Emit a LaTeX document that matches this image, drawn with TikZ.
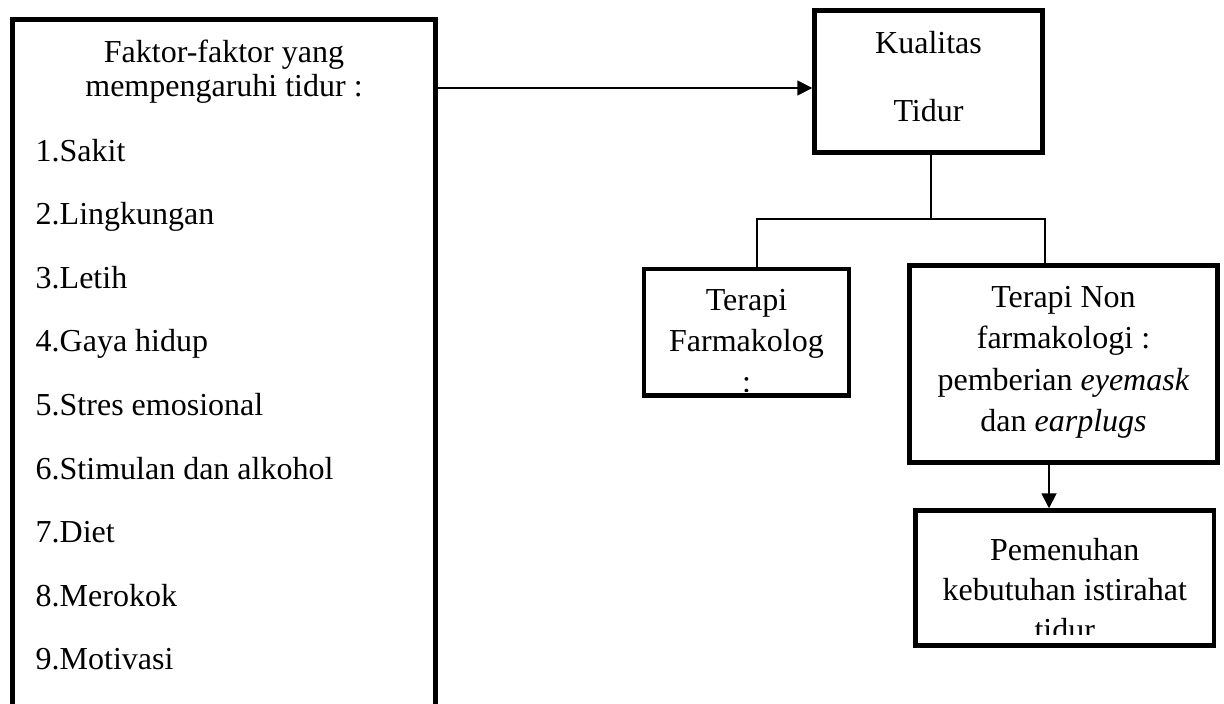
\documentclass[tikz,border=0pt]{standalone}
\usepackage{fontspec}
\setmainfont{Liberation Serif}
\usetikzlibrary{positioning,calc,arrows.meta}

\tikzset{
  box/.style={draw,rectangle,line width=4.5pt,inner sep=0pt},
  link/.style={line width=1.8pt},
  arrow/.style={link,-{Triangle[length=15pt,width=15pt]}},
  txt/.style={anchor=base,inner sep=0pt,font=\fontsize{32}{36}\selectfont}
}

\begin{document}
\begin{tikzpicture}[x=1pt,y=-1pt]
    \useasboundingbox (0,0) rectangle (1224,704);
    \clip (0,0) rectangle (1224,704);

    \node (factors) [box,minimum width=423pt,minimum height=740pt] at (224,389.5) {};
    \node (quality) [box,minimum width=228pt,minimum height=142pt] at (928.5,81.5) {};
    \node (pharm) [box,minimum width=205pt,minimum height=126.5pt] at (746.5,332) {};
    \node (nonpharm) [box,minimum width=308pt,minimum height=197pt] at (1063.5,364) {};
    \node (rest) [box,minimum width=298.5pt,minimum height=135pt] at (1064.75,578) {};

    \node (factors-1) [txt] at (224,62) {Faktor-faktor yang};
    \node (factors-2) [txt] at (224,96) {mempengaruhi tidur :};
    \foreach \factor [count=\i] in {Sakit,Lingkungan,Letih,Gaya hidup,Stres emosional,Stimulan dan alkohol,Diet,Merokok,Motivasi}
      \node (item-\i) [txt,anchor=base west] at (35.5,{161+63.6*(\i-1)}) {\i.\factor};

    \node (quality-1) [txt] at (928.5,53.3) {Kualitas};
    \node (quality-2) [txt] at (928.5,121.7) {Tidur};

    \begin{scope}
      \clip (pharm.north west) rectangle ([yshift=6pt]pharm.south east);
      \node (pharm-1) [txt] at (746.5,310) {Terapi};
      \node (pharm-2) [txt] at (746.5,351.5) {Farmakolog};
      \node (pharm-3) [txt] at (746.5,392) {:};
    \end{scope}

    \node (nonpharm-1) [txt] at (1063.5,307) {Terapi Non};
    \node (nonpharm-2) [txt] at (1063.5,348) {farmakologi :};
    \node (nonpharm-3) [txt] at (1063.5,390) {pemberian \textit{eyemask}};
    \node (nonpharm-4) [txt] at (1063.5,431.5) {dan \textit{earplugs}};

    \begin{scope}
      \clip (rest.north west) rectangle ([yshift=13.75pt]rest.south east);
      \node (rest-1) [txt] at (1064.75,560) {Pemenuhan};
      \node (rest-2) [txt] at (1064.75,600) {kebutuhan istirahat};
      \node (rest-3) [txt] at (1064.75,640) {tidur};
    \end{scope}

    \coordinate (in-quality) at ([yshift=-6.5pt]quality.west);
    \draw [arrow] (factors.east |- in-quality) -- (in-quality);

    \coordinate (fork) at ([xshift=2.5pt,yshift=-64.5pt]quality.south);
    \draw [link] ([xshift=2.5pt]quality.south) -- (fork);
    \draw [link] ([xshift=10.75pt]pharm.north) |- (fork) -| ([xshift=-18.5pt]nonpharm.north);

    \coordinate (out-nonpharm) at ([xshift=-14.5pt]nonpharm.south);
    \draw [arrow] (out-nonpharm) -- (out-nonpharm |- rest.north);
\end{tikzpicture}
\end{document}
